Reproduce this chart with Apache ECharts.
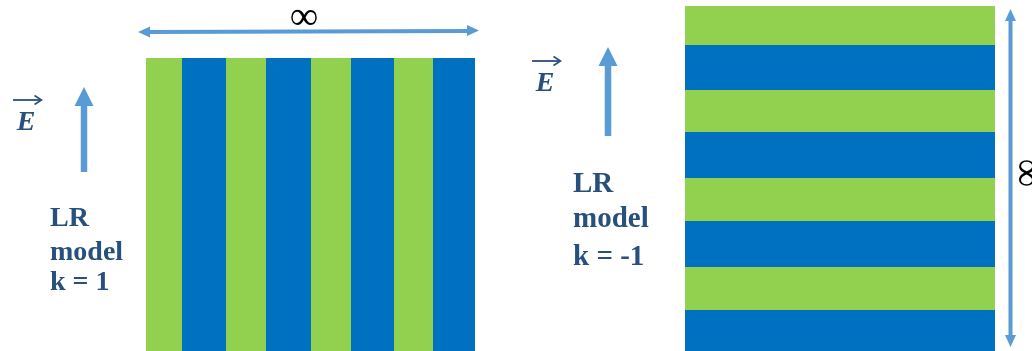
<!DOCTYPE html>
<html>
<head>
<meta charset="utf-8">
<style>
  html, body { margin: 0; padding: 0; background: #ffffff; }
  #chart { width: 1032px; height: 351px; }
</style>
<script src="https://cdn.jsdelivr.net/npm/echarts@6/dist/echarts.min.js"></script>
</head>
<body>
<div id="chart"></div>
<script>
// ---- data ----
const panelCategory = ['panel'];
const leftStripeKinds  = ['A', 'B', 'A', 'B', 'A', 'B', 'A', 'B'];   // vertical stripes, left to right
const leftStripeWidths = [36, 44, 40, 45, 40, 43, 39, 42];          // relative stripe widths
const rightStripeKinds  = ['A', 'B', 'A', 'B', 'A', 'B', 'A', 'B'];  // horizontal stripes, top to bottom
const rightStripeHeights = [39, 45, 42, 46, 43, 46, 43, 41];        // relative stripe heights
const leftLabelLines  = ['LR', 'model', 'k = 1'];
const rightLabelLines = ['LR', 'model', 'k = -1'];
const fieldSymbol = 'E';
const extentSymbol = '\u221E';

// ---- styles ----
const kindColor = { A: '#92D050', B: '#0070C0' };
const arrowColor = '#5B9BD5';
const textColor = '#27507D';
const serif = '"Liberation Serif", "DejaVu Serif", serif';

const sum = a => a.reduce((s, v) => s + v, 0);

const chart = echarts.init(document.getElementById('chart'), null, { renderer: 'canvas' });

function arrowUp(x, yTip, yBase, headH, headW, shaftW) {
  return [
    { type: 'line', shape: { x1: x, y1: yTip + headH - 1, x2: x, y2: yBase },
      style: { stroke: arrowColor, lineWidth: shaftW } },
    { type: 'polygon', shape: { points: [[x, yTip], [x - headW / 2, yTip + headH], [x + headW / 2, yTip + headH]] },
      style: { fill: arrowColor } }
  ];
}

function vecE(cx, cy) {
  return [
    { type: 'line', shape: { x1: cx - 13, y1: cy - 23, x2: cx + 15, y2: cy - 23 },
      style: { stroke: textColor, lineWidth: 1.8 } },
    { type: 'polyline', shape: { points: [[cx + 8.5, cy - 27.5], [cx + 15.5, cy - 23], [cx + 8.5, cy - 18.5]] },
      style: { stroke: textColor, lineWidth: 1.6, fill: null } },
    { type: 'text', style: { text: fieldSymbol, x: cx, y: cy, textAlign: 'center', textVerticalAlign: 'middle',
      font: 'italic bold 28px ' + serif, fill: textColor } }
  ];
}

function labelLines(lines, x, ys, size) {
  return lines.map((t, i) => ({
    type: 'text',
    style: { text: t, x: x, y: ys[i], textAlign: 'left', textVerticalAlign: 'middle',
      font: 'bold ' + size + 'px ' + serif, fill: textColor }
  }));
}

const graphics = [].concat(
  // top horizontal double arrow with infinity
  [
    { type: 'line', shape: { x1: 148, y1: 32, x2: 468, y2: 31 }, style: { stroke: arrowColor, lineWidth: 4 } },
    { type: 'polygon', shape: { points: [[138, 32], [150, 26.5], [150, 37.5]] }, style: { fill: arrowColor } },
    { type: 'polygon', shape: { points: [[479, 30.5], [467, 25], [467, 36]] }, style: { fill: arrowColor } },
    { type: 'text', style: { text: extentSymbol, x: 304, y: 18, textAlign: 'center', textVerticalAlign: 'middle',
      font: '40px ' + serif, fill: '#000000' } }
  ],
  // right vertical double arrow with infinity
  [
    { type: 'line', shape: { x1: 1010.5, y1: 18, x2: 1010.5, y2: 338 }, style: { stroke: arrowColor, lineWidth: 4 } },
    { type: 'polygon', shape: { points: [[1010.5, 9], [1005, 21], [1016, 21]] }, style: { fill: arrowColor } },
    { type: 'polygon', shape: { points: [[1010.5, 347], [1005, 335], [1016, 335]] }, style: { fill: arrowColor } },
    { type: 'text', rotation: -Math.PI / 2, x: 1025, y: 173, style: { text: extentSymbol, x: 0, y: 0,
      textAlign: 'center', textVerticalAlign: 'middle', font: '40px ' + serif, fill: '#000000' } }
  ],
  vecE(26, 123),
  vecE(545, 84),
  arrowUp(84, 87, 172, 19, 19, 6.5),
  arrowUp(608, 47, 136, 19, 19, 6.5),
  labelLines(leftLabelLines, 50, [219, 253, 283], 28),
  labelLines(rightLabelLines, 573, [185, 220, 258], 29)
);

const leftSeries = leftStripeWidths.map((w, i) => ({
  type: 'bar', xAxisIndex: 0, yAxisIndex: 0, stack: 'left', barWidth: '100%', silent: true,
  itemStyle: { color: kindColor[leftStripeKinds[i]] },
  data: [w]
}));
const rightSeries = rightStripeHeights.map((h, i) => ({
  type: 'bar', xAxisIndex: 1, yAxisIndex: 1, stack: 'right', barWidth: '100%', silent: true,
  itemStyle: { color: kindColor[rightStripeKinds[i]] },
  data: [h]
}));

const option = {
  backgroundColor: '#ffffff',
  animation: false,
  grid: [
    { left: 146, top: 58, width: 329, bottom: 0, containLabel: false },
    { left: 685, top: 6, width: 310, bottom: 0, containLabel: false }
  ],
  xAxis: [
    { type: 'value', gridIndex: 0, min: 0, max: sum(leftStripeWidths), show: false },
    { type: 'category', gridIndex: 1, data: panelCategory, show: false, boundaryGap: true }
  ],
  yAxis: [
    { type: 'category', gridIndex: 0, data: panelCategory, show: false, boundaryGap: true },
    { type: 'value', gridIndex: 1, min: 0, max: sum(rightStripeHeights), inverse: true, show: false }
  ],
  series: leftSeries.concat(rightSeries),
  graphic: { elements: graphics }
};

chart.setOption(option);
</script>
</body>
</html>
